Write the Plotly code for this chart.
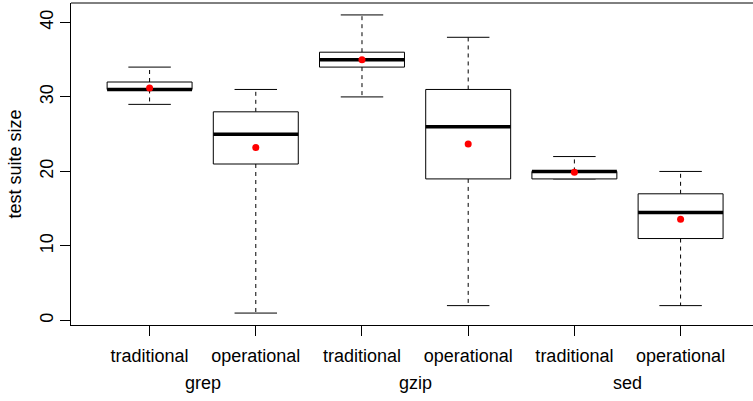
import plotly.graph_objects as go

# ---- data ----
groups = ["grep", "gzip", "sed"]
methods = ["traditional", "operational"]
lower = [29, 1, 30, 2, 19, 2]
q1 = [31, 21, 34, 19, 19, 11]
median = [31, 25, 35, 26, 20, 14.5]
q3 = [32, 28, 36, 31, 20, 17]
upper = [34, 31, 41, 38, 22, 20]
means = [31.2, 23.2, 35.0, 23.7, 19.9, 13.6]
y_ticks = [0, 10, 20, 30, 40]

labels = [m for g in groups for m in methods]
pos = list(range(1, len(labels) + 1))
boxw = 0.4    # half box width (boxwex 0.8)
capw = 0.2    # half staple width

FONT = "Liberation Sans, Arial, sans-serif"

bx, by = [], []
mx, my = [], []
wx, wy = [], []
cx, cy = [], []
for p, lo, a, m, b, hi in zip(pos, lower, q1, median, q3, upper):
    bx += [p - boxw, p + boxw, p + boxw, p - boxw, p - boxw, None]
    by += [a, a, b, b, a, None]
    mx += [p - boxw, p + boxw, None]
    my += [m, m, None]
    wx += [p, p, None, p, p, None]
    wy += [b, hi, None, a, lo, None]
    cx += [p - capw, p + capw, None, p - capw, p + capw, None]
    cy += [hi, hi, None, lo, lo, None]

fig = go.Figure()
fig.add_trace(go.Scatter(x=wx, y=wy, mode="lines",
                         line=dict(color="black", width=1, dash="4px,4px"),
                         hoverinfo="skip", showlegend=False))
fig.add_trace(go.Scatter(x=cx, y=cy, mode="lines",
                         line=dict(color="black", width=1),
                         hoverinfo="skip", showlegend=False))
fig.add_trace(go.Scatter(x=bx, y=by, mode="lines", fill="toself",
                         fillcolor="white",
                         line=dict(color="black", width=1),
                         hoverinfo="skip", showlegend=False))
fig.add_trace(go.Scatter(x=mx, y=my, mode="lines",
                         line=dict(color="black", width=3.5),
                         hoverinfo="skip", showlegend=False))
fig.add_trace(go.Scatter(x=pos, y=means, mode="markers",
                         marker=dict(color="red", size=7),
                         hoverinfo="skip", showlegend=False))

# group labels centred under each pair
for i, g in enumerate(groups):
    fig.add_annotation(x=(pos[2 * i] + pos[2 * i + 1]) / 2, y=-0.18,
                       xref="x", yref="paper", text=g, showarrow=False,
                       yanchor="middle", font=dict(family=FONT, size=18, color="black"))

fig.add_shape(type="line", xref="paper", yref="paper", x0=0, x1=1, y0=1, y1=1,
              line=dict(color="black", width=1))

fig.update_layout(
    width=753, height=401,
    margin=dict(l=71, r=0, t=3, b=76),
    plot_bgcolor="white", paper_bgcolor="white",
    font=dict(family=FONT, size=18, color="black"),
    xaxis=dict(range=[0.26, 0.26 + 682 / 106.2], tickvals=pos, ticktext=labels,
               automargin=False,
               showgrid=False, zeroline=False, showline=True, linecolor="black",
               linewidth=1, ticks="outside", ticklen=10, tickcolor="black",
               ticklabelstandoff=4, tickfont=dict(family=FONT, size=18, color="black")),
    yaxis=dict(range=[-0.6, 42.6], tickvals=y_ticks, tickangle=-90,
               automargin=False,
               showgrid=False, zeroline=False, showline=True, linecolor="black",
               linewidth=1, ticks="outside", ticklen=10, tickcolor="black",
               ticklabelstandoff=0, tickfont=dict(family=FONT, size=18, color="black"),
               title=dict(text="test suite size", standoff=10,
                          font=dict(family=FONT, size=18, color="black"))),
)

fig.write_html("out.html", config={"displayModeBar": False},
               post_script="document.body.style.margin='0';document.body.style.overflow='hidden';")
